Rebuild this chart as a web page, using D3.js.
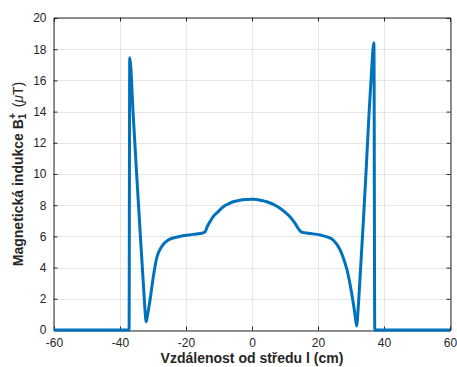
<!DOCTYPE html>
<html><head><meta charset="utf-8">
<script src="https://cdn.jsdelivr.net/npm/d3@7"></script>
<style>body{margin:0;background:#fff}svg{display:block}text{font-family:"Liberation Sans",Arial,sans-serif}</style>
</head><body><svg id="c" width="457" height="367"></svg>
<script>
const xValues = [-60, -37.25, -37.05, -36.0, -34.9, -33.7, -32.7, -32.4, -32.05, -31.7, -31.3, -30.9, -29.9, -28.9, -27.4, -25.4, -22.3, -17.8, -14.9, -14.2, -13.5, -12.5, -11.7, -10, -8.7, -7, -5.7, -4, -2, 0.5, 3, 4.45, 6.5, 8.5, 10, 11.5, 13, 14.2, 15.06, 17, 20.6, 22.5, 24.6, 26.7, 27.7, 28.8, 30.2, 31.0, 31.45, 31.75, 32.05, 32.7, 33.7, 34.6, 35.4, 36.2, 36.95, 37.2, 60];
const yValues = [0, 0, 17.45, 13.8, 9.8, 5.6, 2.2, 1.2, 0.53, 0.9, 1.4, 1.92, 3.42, 4.6, 5.34, 5.77, 5.98, 6.13, 6.22, 6.3, 6.65, 7.02, 7.28, 7.64, 7.9, 8.1, 8.22, 8.3, 8.36, 8.38, 8.3, 8.22, 8.05, 7.8, 7.55, 7.26, 6.85, 6.45, 6.28, 6.2, 6.1, 5.98, 5.77, 5.13, 4.6, 3.85, 2.35, 1.3, 0.6, 0.25, 1.0, 3.2, 6.8, 10.3, 13.6, 16.5, 18.42, 0, 0];
const xTicks = [-60, -40, -20, 0, 20, 40, 60];
const yTicks = [0, 2, 4, 6, 8, 10, 12, 14, 16, 18, 20];

const svg = d3.select("#c");
const L = 54, R = 450, T = 18, B = 330;
const x = d3.scaleLinear().domain([-60, 60]).range([L, R]);
const y = d3.scaleLinear().domain([0, 20]).range([B, T]);
const axc = "#262626";
const fmt = d => String(d);

// grid
const g = svg.append("g");
g.selectAll(".vx").data(xTicks).join("line")
  .attr("x1", d => Math.round(x(d)) + 0.5).attr("x2", d => Math.round(x(d)) + 0.5)
  .attr("y1", T).attr("y2", B).attr("stroke", "#e6e6e6").attr("stroke-width", 1);
g.selectAll(".hy").data(yTicks).join("line")
  .attr("y1", d => Math.round(y(d)) + 0.5).attr("y2", d => Math.round(y(d)) + 0.5)
  .attr("x1", L).attr("x2", R).attr("stroke", "#e6e6e6").attr("stroke-width", 1);

// axes
const xAxis = d3.axisBottom(x).tickValues(xTicks).tickSize(-4).tickPadding(8).tickFormat(fmt);
const yAxis = d3.axisLeft(y).tickValues(yTicks).tickSize(-4).tickPadding(7).tickFormat(fmt);
const xTop = d3.axisTop(x).tickValues(xTicks).tickSize(-4).tickFormat("");
const yRight = d3.axisRight(y).tickValues(yTicks).tickSize(-4).tickFormat("");
function style(sel) {
  sel.selectAll("path").attr("stroke", axc);
  sel.selectAll("line").attr("stroke", axc);
  sel.selectAll("text").attr("fill", axc).style("font-size", "12px").style("font-family", '"Liberation Sans",Arial,sans-serif');
}
svg.append("g").attr("transform", `translate(0,${B + 0.5})`).call(xAxis).call(style);
svg.append("g").attr("transform", `translate(${L - 0.5},0)`).call(yAxis).call(style);
svg.append("g").attr("transform", `translate(0,${T - 0.5})`).call(xTop).call(style);
svg.append("g").attr("transform", `translate(${R + 0.5},0)`).call(yRight).call(style);
svg.selectAll(".domain").attr("stroke-width", 1);

// line
const line = d3.line().x(d => x(d[0])).y(d => y(d[1])).curve(d3.curveMonotoneX);
svg.append("path").datum(xValues.map((v, i) => [v, yValues[i]]))
  .attr("d", line).attr("fill", "none").attr("stroke", "#0072BD")
  .attr("stroke-width", 3).attr("stroke-linejoin", "round").attr("stroke-linecap", "butt");

// x label
svg.append("text").attr("x", (L + R) / 2).attr("y", 363).attr("text-anchor", "middle")
  .attr("fill", axc).style("font-size", "14px").style("font-weight", "bold")
  .text("Vzdálenost od středu l (cm)");

// y label
const yl = svg.append("text").attr("transform", `translate(23,${(T + B) / 2}) rotate(-90)`)
  .attr("text-anchor", "middle").attr("fill", axc).style("font-size", "14px");
yl.append("tspan").style("font-weight", "bold").text("Magnetická indukce B");
yl.append("tspan").style("font-weight", "bold").style("font-size", "10px").attr("dy", 3).text("1");
yl.append("tspan").style("font-weight", "bold").style("font-size", "10px").attr("dx", -5.5).attr("dy", -10).text("+");
yl.append("tspan").attr("dy", 7).attr("dx", 2).text(" (");
yl.append("tspan").style("font-style", "italic").text("μ");
yl.append("tspan").text("T)");
</script></body></html>
